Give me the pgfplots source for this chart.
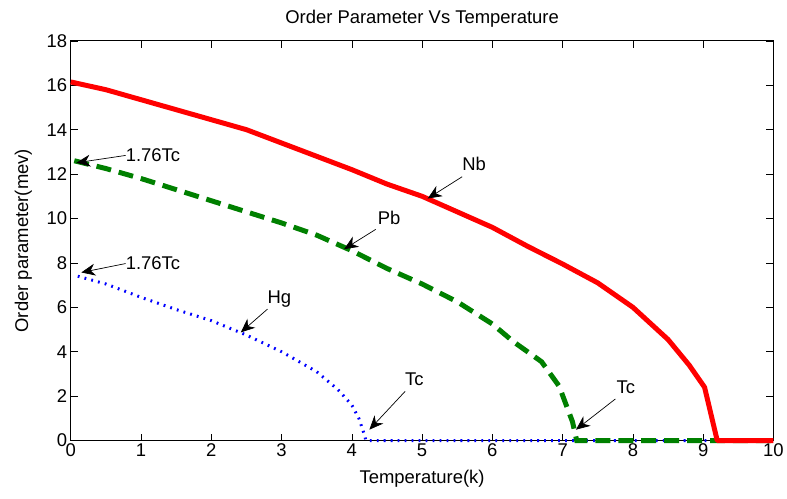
\documentclass[border=0pt]{standalone}
\usepackage{pgfplots}
\pgfplotsset{compat=1.18}
\usepackage{fontspec}
\setmainfont{Liberation Sans}
\usetikzlibrary{arrows.meta}
\definecolor{mgreen}{RGB}{0,128,0}
\begin{document}
\begin{tikzpicture}[font=\fontsize{18.5}{22}\selectfont]
\begin{axis}[
  scale only axis, width=705pt, height=401pt,
  xmin=0, xmax=10, ymin=0, ymax=18,
  xtick={0,1,...,10}, ytick={0,2,...,18},
  tick align=inside, major tick length=7pt,
  tick style={black, line width=0.6pt},
  axis line style={line width=0.8pt},
  /pgf/number format/assume math mode=true,
  tick label style={font=\fontsize{18.5}{22}\selectfont},
  title={Order Parameter Vs Temperature},
  title style={yshift=4pt},
  xlabel={Temperature(k)}, ylabel={Order parameter(mev)},
  xlabel style={yshift=-6pt},
  ylabel style={yshift=8pt},
  clip=false,
]
\addplot[blue, line width=3pt, dash pattern=on 1.8pt off 5.2pt] coordinates {
(0.1,7.4)(0.5,7.05)(1,6.45)(1.5,5.9)(2,5.4)(2.5,4.75)(3,4.0)(3.5,3.1)(3.8,2.3)(4,1.6)(4.1,1.0)(4.18,0.25)(4.2,0)(10,0)};
\addplot[mgreen, line width=5pt, dash pattern=on 15pt off 8pt] coordinates {
(0.05,12.6)(0.5,12.25)(1,11.8)(1.5,11.3)(2,10.8)(2.5,10.3)(3,9.8)(3.5,9.25)(4,8.55)(4.5,7.75)(5,7.05)(5.5,6.25)(6,5.25)(6.3,4.45)(6.7,3.55)(6.95,2.45)(7.14,0.85)(7.2,0)(10,0)};
\addplot[red, line width=5pt, line join=round] coordinates {
(0,16.15)(0.5,15.8)(1,15.35)(1.5,14.9)(2,14.45)(2.5,14.0)(3,13.4)(3.5,12.8)(4,12.2)(4.5,11.55)(5,11.0)(5.5,10.3)(6,9.6)(6.5,8.75)(7,7.95)(7.5,7.1)(8,6.0)(8.5,4.55)(8.8,3.4)(9.02,2.4)(9.2,0)(10,0)};
% annotations
\tikzset{ann/.style={black, line width=0.7pt, -{Stealth[length=14pt, width=12pt, inset=4.5pt]}}}
\draw[ann] (axis cs:5.57,11.88) -- (axis cs:5.08,10.9);
\node at (axis cs:5.74,12.45) {Nb};
\draw[ann] (axis cs:4.34,9.51) -- (axis cs:3.89,8.62);
\node at (axis cs:4.53,10.04) {Pb};
\draw[ann] (axis cs:2.80,5.92) -- (axis cs:2.42,4.87);
\node at (axis cs:2.97,6.37) {Hg};
\draw[ann] (axis cs:4.76,2.22) -- (axis cs:4.25,0.49);
\node at (axis cs:4.89,2.77) {Tc};
\draw[ann] (axis cs:7.75,1.87) -- (axis cs:7.19,0.49);
\node at (axis cs:7.90,2.40) {Tc};
\draw[ann] (axis cs:0.78,12.84) -- (axis cs:0.08,12.51);
\node[anchor=west, inner sep=0pt] at (axis cs:0.78,12.84) {1.76Tc};
\draw[ann] (axis cs:0.78,7.97) -- (axis cs:0.15,7.57);
\node[anchor=west, inner sep=0pt] at (axis cs:0.78,7.97) {1.76Tc};
\end{axis}
\path ([xshift=-71pt,yshift=-58pt]current axis.south west) rectangle ([xshift=11pt,yshift=41pt]current axis.north east);
\end{tikzpicture}
\end{document}
